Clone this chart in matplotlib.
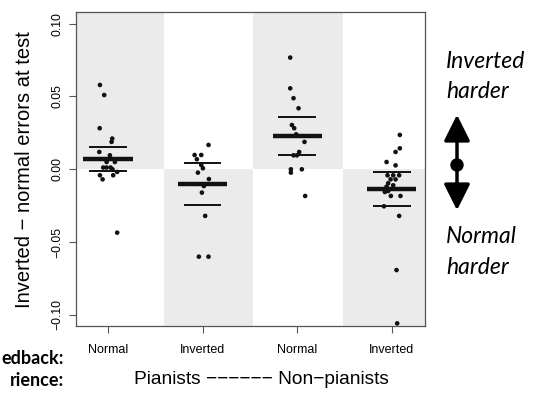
import matplotlib
matplotlib.use("Agg")
import matplotlib.pyplot as plt
import matplotlib.patches as mpatches

# ── Data ─────────────────────────────────────────────────────────────────────
feedback = ["Normal", "Inverted", "Normal", "Inverted"]

g1_vals = [0.0579, 0.0510, 0.0282, 0.0211, 0.0188, 0.0119, 0.0096, 0.0069, 0.0050,
           0.0050, 0.0012, 0.0012, 0.0012, 0.0000, -0.0018, -0.0041, -0.0041,
           -0.0069, -0.0435]
g1_jit = [-0.084, -0.039, -0.087, 0.046, 0.039, -0.091, 0.021, 0.003, -0.014,
          0.074, -0.049, -0.014, 0.028, 0.049, 0.098, -0.084, 0.056, -0.056, 0.098]

g2_vals = [0.0167, 0.0098, 0.0098, 0.0069, 0.0030, 0.0007, -0.0023, -0.0067,
           -0.0115, -0.0160, -0.0320, -0.0600, -0.0600]
g2_jit = [0.063, -0.084, -0.014, -0.060, -0.014, 0.004, -0.049, 0.067, 0.014,
          -0.007, 0.028, -0.039, 0.063]

g3_vals = [0.0767, 0.0556, 0.0488, 0.0419, 0.0304, 0.0282, 0.0240, 0.0188, 0.0119,
           0.0096, 0.0096, 0.0000, -0.0023, 0.0000, -0.0183]
g3_jit = [-0.074, -0.074, -0.039, 0.014, -0.056, -0.032, -0.011, 0.077, 0.021,
          -0.039, -0.004, -0.067, -0.067, 0.049, 0.084]

g4_vals = [0.0236, 0.0144, 0.0119, 0.0050, 0.0027, -0.0041, -0.0041, -0.0041,
           -0.0069, -0.0069, -0.0096, -0.0110, -0.0119, -0.0156, -0.0149, -0.0183,
           -0.0183, -0.0254, -0.0320, -0.0692, -0.1058]
g4_jit = [0.084, 0.084, 0.039, -0.056, 0.039, -0.046, 0.014, 0.077, -0.014, 0.039,
          -0.039, 0.014, -0.056, -0.074, -0.039, -0.011, 0.091, -0.084, 0.077,
          0.049, 0.056]

groups = [(g1_vals, g1_jit), (g2_vals, g2_jit), (g3_vals, g3_jit), (g4_vals, g4_jit)]

means = [0.0071, -0.0101, 0.0229, -0.0137]
errs = [0.0082, 0.0141, 0.0131, 0.0117]

GREY = "#ebebeb"
AXIS_GREY = "#555555"

fig = plt.figure(figsize=(5.34, 3.93), dpi=100)
ax = fig.add_axes([76 / 534, 1 - 326 / 393, 349 / 534, 314 / 393])

xlim = (0.663, 4.35)
ylim = (-0.1076, 0.108)
ax.set_xlim(*xlim)
ax.set_ylim(*ylim)

# checkerboard shading: grey above zero for Normal, below zero for Inverted
bounds = [xlim[0], 1.59, 2.53, 3.48, xlim[1]]
for i in range(4):
    lo, hi = bounds[i], bounds[i + 1]
    if i % 2 == 0:
        y0, y1 = 0, 0.2
    else:
        y0, y1 = -0.2, 0
    ax.add_patch(mpatches.Rectangle((lo, y0), hi - lo, y1 - y0,
                                    facecolor=GREY, edgecolor="none", zorder=0))

for i, (vals, jit) in enumerate(groups):
    x = i + 1
    ax.scatter([x + j for j in jit], vals, s=11, color="#111111",
               edgecolors="none", zorder=3)
    ax.plot([x - 0.26, x + 0.26], [means[i]] * 2, color="#111111", lw=3.2,
            solid_capstyle="butt", zorder=4)
    for s in (-1, 1):
        ax.plot([x - 0.2, x + 0.2], [means[i] + s * errs[i]] * 2,
                color="#111111", lw=1.4, solid_capstyle="butt", zorder=4)

ax.set_xticks([1, 2, 3, 4])
ax.set_xticklabels(feedback, fontsize=9, family="Liberation Sans")
ax.set_yticks([0.10, 0.05, 0.00, -0.05, -0.10])
ax.set_yticklabels(["0.10", "0.05", "0.00", "\u22120.05", "\u22120.10"],
                   fontsize=8.8, family="Liberation Sans", rotation=90, va="center")
ax.tick_params(axis="both", direction="out", length=5, width=0.8,
               color=AXIS_GREY, pad=4)
ax.tick_params(axis="x", pad=8)
for sp in ax.spines.values():
    sp.set_edgecolor(AXIS_GREY)
    sp.set_linewidth(0.9)

fig.text(25 / 534, 1 - 170 / 393, "Inverted \u2212 normal errors at test",
         rotation=90, ha="center", va="center", fontsize=14.5,
         family="Liberation Sans")

fig.text(261 / 534, 1 - 380 / 393, "Pianists \u2212\u2212\u2212\u2212\u2212\u2212 Non\u2212pianists",
         ha="center", va="center", fontsize=13.8, family="Liberation Sans")

# row labels, cropped at the left edge in the source figure
fig.text(64 / 534, 1 - 358 / 393, "edback:", ha="right", va="center",
         fontsize=13, fontweight="bold", family="Lato")
fig.text(64 / 534, 1 - 380 / 393, "rience:", ha="right", va="center",
         fontsize=13, fontweight="bold", family="Lato")

for txt, yy in [("Inverted", 62), ("harder", 92), ("Normal", 236), ("harder", 268)]:
    fig.text(446 / 534, 1 - yy / 393, txt, ha="left", va="center",
             fontsize=16.5, style="italic", family="Lato")

arrow = mpatches.FancyArrowPatch((457 / 534, 1 - 213 / 393), (457 / 534, 1 - 112 / 393),
                                 transform=fig.transFigure,
                                 arrowstyle="<|-|>,head_length=0.8,head_width=0.4",
                                 mutation_scale=20, color="black", lw=2.5)
fig.add_artist(arrow)
fig.add_artist(mpatches.Ellipse((457 / 534, 1 - 165 / 393), 12 / 534, 12 / 393,
                                transform=fig.transFigure, color="black"))

fig.savefig("out.png", dpi=100)
